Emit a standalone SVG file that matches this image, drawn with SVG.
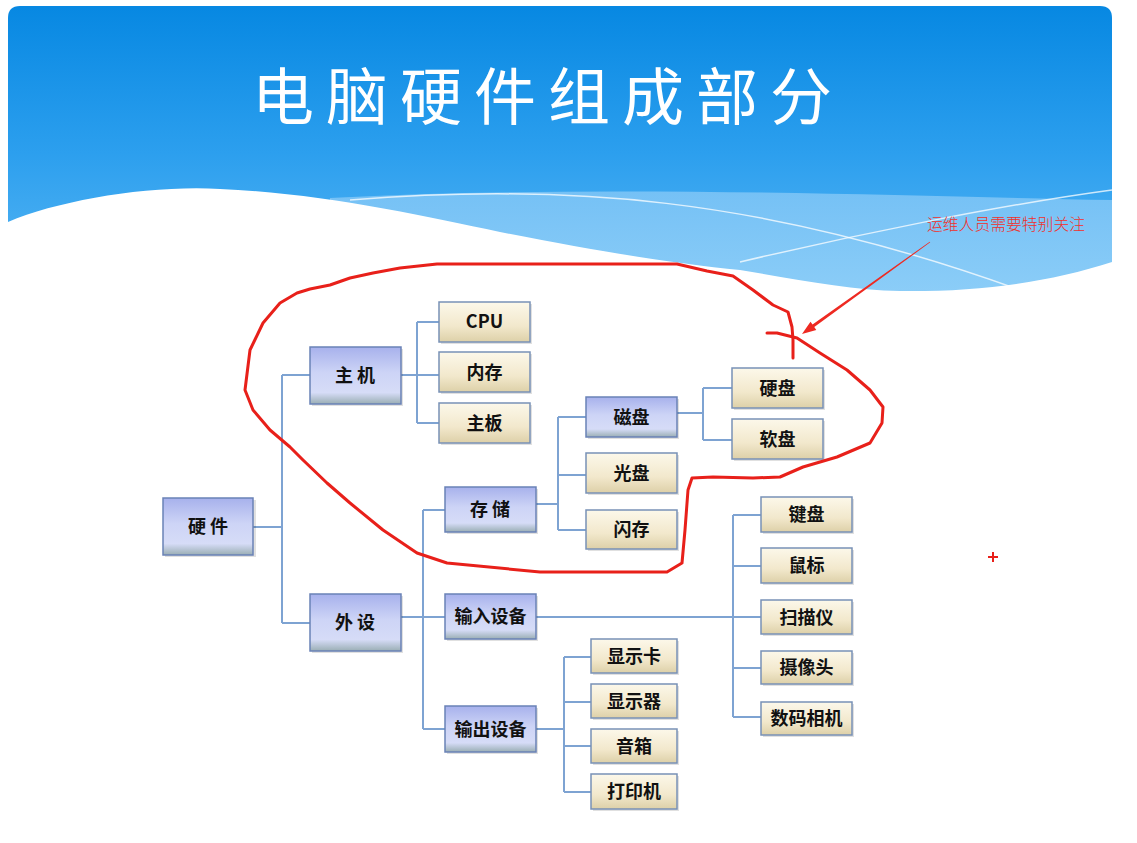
<svg xmlns="http://www.w3.org/2000/svg" width="1137" height="843" viewBox="0 0 1137 843">
<defs>
<linearGradient id="sky" x1="0" y1="0" x2="0" y2="1">
<stop offset="0" stop-color="#0788e2"/>
<stop offset="0.5" stop-color="#2c9fee"/>
<stop offset="1" stop-color="#5cb8f4"/>
</linearGradient>
<linearGradient id="band" x1="0" y1="0" x2="0" y2="1">
<stop offset="0" stop-color="#7cc4f6"/>
<stop offset="1" stop-color="#92d0f8"/>
</linearGradient>
<linearGradient id="gBlue" x1="0" y1="0" x2="0" y2="1">
<stop offset="0" stop-color="#a7b1ec"/>
<stop offset="0.45" stop-color="#cdd4f6"/>
<stop offset="0.8" stop-color="#d6dcf7"/>
<stop offset="1" stop-color="#9aaeb4"/>
</linearGradient>
<linearGradient id="gTan" x1="0" y1="0" x2="0" y2="1">
<stop offset="0" stop-color="#fcf8ea"/>
<stop offset="0.6" stop-color="#f2e8cc"/>
<stop offset="1" stop-color="#ddd0a8"/>
</linearGradient>
<style>
.blue{fill:url(#gBlue);stroke:#6a82b6;stroke-width:1.5}
.tan{fill:url(#gTan);stroke:#7891b6;stroke-width:1.5}
.sh{fill:#000;opacity:0.12}
.t{font-family:"Noto Sans CJK SC","Noto Sans",sans-serif;font-weight:700;font-size:18px;fill:#111;text-anchor:middle}
.ts{letter-spacing:4px}
.conn{fill:none;stroke:#7ea3d2;stroke-width:2}
.red{fill:none;stroke:#e8201a;stroke-width:3;stroke-linejoin:round;stroke-linecap:round}
.wl{fill:none;stroke:#ffffff;stroke-width:1.5;opacity:0.75}
</style>
</defs>
<rect x="0" y="0" width="1137" height="843" fill="#ffffff"/>
<path d="M8,18 Q8,6 20,6 H1100 Q1112,6 1112,18 V300 H8 Z" fill="url(#sky)"/>
<path d="M330,198 C 600,184 900,196 1112,200 V300 H330 Z" fill="url(#band)" opacity="0.9"/>
<path class="wl" d="M350,200 C 560,183 760,196 1020,290"/>
<path class="wl" d="M740,262 C 850,236 1000,205 1112,190"/>
<path d="M0,222 L8,222 C 60,200 150,185 220,189 C 320,193 420,215 500,232 C 600,252 680,264 740,270 C 800,280 850,290 900,291 C 980,292 1050,282 1112,262 L1137,262 L1137,843 L0,843 Z" fill="#ffffff"/>
<text x="548" y="120" font-family="'Noto Sans CJK SC',sans-serif" font-weight="400" font-size="62" letter-spacing="12" text-anchor="middle" fill="#ffffff">电脑硬件组成部分</text>

<g id="connectors">
<path class="conn" d="M253,527 H282 M282,375 V623 M282,375 H310 M282,623 H310"/>
<path class="conn" d="M401,375 H439 M417,322 V423 M417,322 H439 M417,423 H439"/>
<path class="conn" d="M401,617 H445 M423,510 V729 M423,510 H445 M423,729 H445"/>
<path class="conn" d="M536,504 H558 M558,417 V530 M558,417 H586 M558,475 H586 M558,530 H586"/>
<path class="conn" d="M677,413 H703 M703,388 V440 M703,388 H732 M703,440 H732"/>
<path class="conn" d="M536,617 H761 M733,515 V717 M733,515 H761 M733,566 H761 M733,668 H761 M733,717 H761"/>
<path class="conn" d="M536,729 H564 M564,657 V792 M564,657 H591 M564,702 H591 M564,746 H591 M564,792 H591"/>
</g>

<g id="n-yingjian"><rect class="sh" x="165" y="500" width="91" height="57"/><rect class="blue" x="163" y="498" width="90" height="57"/><text class="t ts" x="210" y="533">硬件</text></g>
<g id="n-zhuji"><rect class="sh" x="312" y="349" width="91" height="57"/><rect class="blue" x="310" y="347" width="91" height="57"/><text class="t ts" x="357" y="382">主机</text></g>
<g id="n-waishe"><rect class="sh" x="312" y="596" width="91" height="57"/><rect class="blue" x="310" y="594" width="91" height="57"/><text class="t ts" x="357" y="629">外设</text></g>
<g id="n-cpu"><rect class="sh" x="441" y="304" width="91" height="40"/><rect class="tan" x="439" y="302" width="91" height="40"/><text class="t" x="484.5" y="328">CPU</text></g>
<g id="n-neicun"><rect class="sh" x="441" y="354" width="91" height="40"/><rect class="tan" x="439" y="352" width="91" height="40"/><text class="t" x="484.5" y="378.5">内存</text></g>
<g id="n-zhuban"><rect class="sh" x="441" y="405" width="91" height="40"/><rect class="tan" x="439" y="403" width="91" height="40"/><text class="t" x="484.5" y="429.5">主板</text></g>
<g id="n-cunchu"><rect class="sh" x="447" y="489" width="91" height="45"/><rect class="blue" x="445" y="487" width="91" height="45"/><text class="t ts" x="492" y="516">存储</text></g>
<g id="n-cipan"><rect class="sh" x="588" y="399" width="91" height="40"/><rect class="blue" x="586" y="397" width="91" height="40"/><text class="t" x="631.5" y="423.5">磁盘</text></g>
<g id="n-guangpan"><rect class="sh" x="588" y="455" width="91" height="40"/><rect class="tan" x="586" y="453" width="91" height="40"/><text class="t" x="631.5" y="479.5">光盘</text></g>
<g id="n-shancun"><rect class="sh" x="588" y="512" width="91" height="39"/><rect class="tan" x="586" y="510" width="91" height="39"/><text class="t" x="631.5" y="536">闪存</text></g>
<g id="n-yingpan"><rect class="sh" x="734" y="370" width="91" height="40"/><rect class="tan" x="732" y="368" width="91" height="40"/><text class="t" x="777.5" y="394.5">硬盘</text></g>
<g id="n-ruanpan"><rect class="sh" x="734" y="421" width="91" height="40"/><rect class="tan" x="732" y="419" width="91" height="40"/><text class="t" x="777.5" y="445.5">软盘</text></g>
<g id="n-shuru"><rect class="sh" x="447" y="596" width="91" height="45"/><rect class="blue" x="445" y="594" width="91" height="45"/><text class="t" x="490.5" y="623">输入设备</text></g>
<g id="n-shuchu"><rect class="sh" x="447" y="708" width="91" height="46"/><rect class="blue" x="445" y="706" width="91" height="46"/><text class="t" x="490.5" y="735.5">输出设备</text></g>
<g id="n-jianpan"><rect class="sh" x="763" y="499" width="91" height="35"/><rect class="tan" x="761" y="497" width="91" height="35"/><text class="t" x="806.5" y="521">键盘</text></g>
<g id="n-shubiao"><rect class="sh" x="763" y="550" width="91" height="35"/><rect class="tan" x="761" y="548" width="91" height="35"/><text class="t" x="806.5" y="572">鼠标</text></g>
<g id="n-saomiao"><rect class="sh" x="763" y="602" width="91" height="34"/><rect class="tan" x="761" y="600" width="91" height="34"/><text class="t" x="806.5" y="623.5">扫描仪</text></g>
<g id="n-shexiang"><rect class="sh" x="763" y="653" width="91" height="33"/><rect class="tan" x="761" y="651" width="91" height="33"/><text class="t" x="806.5" y="674">摄像头</text></g>
<g id="n-shuma"><rect class="sh" x="763" y="704" width="91" height="33"/><rect class="tan" x="761" y="702" width="91" height="33"/><text class="t" x="806.5" y="725">数码相机</text></g>
<g id="n-xianka"><rect class="sh" x="593" y="641" width="86" height="34"/><rect class="tan" x="591" y="639" width="86" height="34"/><text class="t" x="634" y="662.5">显示卡</text></g>
<g id="n-xianshiqi"><rect class="sh" x="593" y="686" width="86" height="34"/><rect class="tan" x="591" y="684" width="86" height="34"/><text class="t" x="634" y="707.5">显示器</text></g>
<g id="n-yinxiang"><rect class="sh" x="593" y="731" width="86" height="34"/><rect class="tan" x="591" y="729" width="86" height="34"/><text class="t" x="634" y="752.5">音箱</text></g>
<g id="n-dayin"><rect class="sh" x="593" y="776" width="86" height="35"/><rect class="tan" x="591" y="774" width="86" height="35"/><text class="t" x="634" y="798">打印机</text></g>

<g id="annotation">
<polyline class="red" points="793,358 793,340 792,327 788,312 773,305 753,290 733,276 707,271 677,264 600,264 437,264 400,268 373,273 350,278 330,285 310,289 297,293 280,303 263,323 250,350 245,390 253,410 270,430 290,447 303,460 327,483 350,503 383,530 417,553 447,563 540,572 620,572 667,572 682,563 685,530 688,490 692,478 713,477 753,478 780,477 803,467 837,457 870,443 882,423 883,407 870,390 847,370 820,353 797,338 777,333 767,333"/>
<polygon fill="#ee2a22" points="929.77,241.68 930.23,242.32 814.28,327.02 816.3,329.9 802,334 810.5,321.7 812.52,324.58"/>
<text x="927" y="230" font-family="'Noto Sans CJK SC',sans-serif" font-weight="300" font-size="16" fill="#f0302a" textLength="158" lengthAdjust="spacingAndGlyphs">运维人员需要特别关注</text>
<path d="M988,557 H998 M993,552 V562" stroke="#e8201a" stroke-width="2" fill="none"/>
</g>
</svg>
